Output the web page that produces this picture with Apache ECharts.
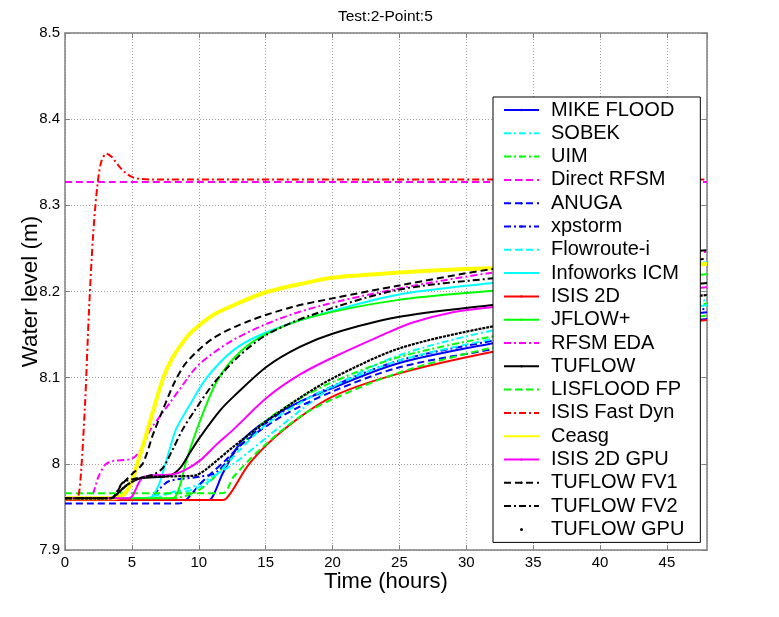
<!DOCTYPE html>
<html><head><meta charset="utf-8">
<script src="https://cdn.jsdelivr.net/npm/echarts@6/dist/echarts.min.js"></script>
<style>html,body{margin:0;padding:0;background:#fff}#c{width:779px;height:617px}</style>
</head><body><div id="c"></div>
<script>
// ---- data: [time (hours), water level (m)] ----
const mikeFlood = [[0,7.958],[10.5,7.958],[10.9,7.959],[11.8,7.989],[13.3,8.028],[16.3,8.062],[20,8.088],[25,8.117],[32,8.140],[40,8.162],[48,8.176]];
const sobek = [[0,7.96],[6.6,7.96],[7.0,7.961],[8.0,7.967],[9.0,7.971],[10,7.976],[11,7.985],[12.6,8.0],[15.1,8.031],[17.6,8.062],[20.1,8.090],[25,8.126],[32,8.155],[40,8.176],[48,8.19]];
const uim = [[0,7.96],[8.1,7.96],[8.5,7.961],[9.5,7.965],[10.5,7.975],[11.5,7.99],[13,8.02],[15,8.05],[17.5,8.075],[20,8.095],[25,8.124],[32,8.148],[40,8.17],[48,8.186]];
const directRfsm = [[0,8.327],[48,8.327]];
const anuga = [[0,7.954],[8.4,7.954],[8.8,7.955],[9.3,7.962],[10,7.975],[11,7.99],[12,8.004],[13.3,8.024],[16.3,8.056],[20,8.084],[25,8.112],[32,8.133],[40,8.154],[48,8.168]];
const xpstorm = [[0,7.958],[5.9,7.958],[6.3,7.959],[7.0,7.97],[7.8,7.98],[10,7.985],[11.3,7.99],[13.3,8.024],[16,8.058],[20,8.09],[25,8.12],[32,8.143],[40,8.165],[48,8.18]];
const flowroute = [[0,7.96],[5.9,7.96],[6.3,7.961],[7.0,7.964],[9.0,7.968],[10.3,7.975],[11.5,7.99],[13,8.015],[15,8.045],[17.5,8.07],[20,8.09],[25,8.12],[32,8.145],[40,8.168],[48,8.184]];
const infoworks = [[0,7.96],[6.1,7.96],[6.5,7.962],[7.0,7.975],[7.6,8.005],[8.3,8.04],[9.2,8.065],[10.6,8.10],[12.6,8.132],[14.8,8.151],[18.3,8.17],[24.8,8.196],[31.8,8.2095],[40,8.222],[48,8.234]];
const isis2d = [[0,7.958],[11.6,7.958],[12,7.959],[13.8,8.0006],[16.3,8.039],[20,8.078],[25,8.105],[32,8.130],[40,8.152],[48,8.167]];
const jflow = [[0,7.96],[7.8,7.96],[8.2,7.961],[8.6,7.975],[9.1,8.005],[10.1,8.05],[11.4,8.097],[13.1,8.13],[15.1,8.151],[18.3,8.170],[24.8,8.19],[31.8,8.2006],[40,8.211],[48,8.22]];
const rfsmEda = [[0,7.96],[1.6,7.96],[2.0,7.962],[2.5,7.985],[3.0,7.999],[3.5,8.003],[5.0,8.006],[5.6,8.015],[6.4,8.04],[7.1,8.055],[7.8,8.07],[8.5,8.085],[10,8.115],[12.6,8.144],[15.8,8.167],[19,8.183],[24.8,8.203],[32,8.222],[40,8.236],[48,8.246]];
const tuflow = [[0,7.96],[3.2,7.96],[3.6,7.961],[4.6,7.975],[5.6,7.983],[7.8,7.986],[8.6,7.995],[9.3,8.012],[10.1,8.031],[11.6,8.062],[12.6,8.078],[15.1,8.113],[17.6,8.136],[20,8.151],[24.8,8.170],[31.8,8.184],[40,8.198],[48,8.21]];
const lisflood = [[0,7.966],[11.6,7.966],[12,7.967],[12.6,7.985],[15.1,8.024],[17.6,8.055],[20,8.075],[25,8.106],[32,8.135],[40,8.156],[48,8.172]];
const isisFastDyn = [[0,7.96],[0.8,7.96],[1.0,7.962],[1.2,7.99],[1.5,8.07],[1.8,8.18],[2.1,8.265],[2.4,8.32],[2.7,8.35],[3.1,8.36],[3.5,8.356],[4.0,8.346],[4.5,8.338],[5.0,8.333],[5.5,8.331],[6.5,8.330],[48,8.330]];
const ceasg = [[0,7.96],[3.6,7.96],[4.0,7.961],[4.5,7.966],[5.0,7.98],[5.5,8.005],[6.0,8.03],[6.6,8.062],[7.35,8.10],[8,8.122],[9,8.145],[9.6,8.155],[11,8.172],[12.3,8.182],[14.8,8.198],[18,8.210],[20,8.216],[25,8.222],[30,8.226],[35,8.228],[40,8.230],[48,8.232]];
const isis2dGpu = [[0,7.96],[4.6,7.96],[5.0,7.962],[5.9,7.985],[8.1,7.988],[9.0,7.993],[10.1,8.004],[11.3,8.022],[12.6,8.04],[15.1,8.077],[17.6,8.104],[20.1,8.124],[23.8,8.15],[26,8.164],[29,8.176],[32,8.182],[40,8.196],[48,8.205]];
const tuflowFv1 = [[0,7.96],[3.2,7.96],[3.6,7.961],[4.2,7.975],[5.0,7.988],[5.8,8.0],[6.6,8.035],[7.3,8.062],[8.2,8.095],[9.1,8.118],[11.1,8.146],[13.8,8.166],[17,8.182],[20,8.192],[25,8.207],[32,8.226],[40,8.238],[48,8.248]];
const tuflowFv2 = [[0,7.96],[3.2,7.96],[3.6,7.961],[4.3,7.978],[5.0,7.982],[6.5,7.987],[7.3,7.995],[8.0,8.015],[8.8,8.04],[9.7,8.062],[11.1,8.093],[13,8.125],[15.1,8.15],[18.3,8.172],[24.8,8.2017],[31.8,8.215],[40,8.227],[48,8.238]];
const tuflowGpu = [[0,7.96],[3.2,7.96],[3.6,7.961],[4.6,7.975],[5.8,7.984],[9.5,7.986],[9.85,7.987],[10.5,7.993],[12.6,8.02],[15.1,8.05],[17.6,8.077],[20.1,8.1],[25,8.134],[31.8,8.159],[40,8.18],[48,8.196]];

const seriesNames = ['MIKE FLOOD','SOBEK','UIM','Direct RFSM','ANUGA','xpstorm','Flowroute-i','Infoworks ICM','ISIS 2D','JFLOW+','RFSM EDA','TUFLOW','LISFLOOD FP','ISIS Fast Dyn','Ceasg','ISIS 2D GPU','TUFLOW FV1','TUFLOW FV2','TUFLOW GPU'];
const seriesData = [mikeFlood,sobek,uim,directRfsm,anuga,xpstorm,flowroute,infoworks,isis2d,jflow,rfsmEda,tuflow,lisflood,isisFastDyn,ceasg,isis2dGpu,tuflowFv1,tuflowFv2,tuflowGpu];

// ---- styles ----
const DASH = [7,4], DASHDOT = [7,3,2,3], DOT = [3,1];
const styles = [
  ['#0000ff','solid',2],['#00ffff',DASHDOT,2],['#00ff00',DASHDOT,2],['#ff00ff',DASH,2],
  ['#0000ff',DASH,2],['#0000ff',DASHDOT,2],['#00ffff',DASH,2],['#00ffff','solid',2],
  ['#ff0000','solid',2],['#00ff00','solid',2],['#ff00ff',DASHDOT,2],['#000000','solid',2],
  ['#00ff00',DASH,2],['#ff0000',DASHDOT,2],['#ffff00','solid',4],['#ff00ff','solid',2],
  ['#000000',DASH,2],['#000000',DASHDOT,2],['#000000',DOT,2.2]
];

const FONT = 'Liberation Sans';
const chart = echarts.init(document.getElementById('c'), null, {renderer:'canvas'});
const axisCol = '#808080';
const gridLine = {show:true, lineStyle:{color:'#a0a0a0', type:[1,2], width:1}};

const series = seriesNames.map((n,i)=>({
  name:n, type:'line', data:seriesData[i], showSymbol:false, symbol:'none',
  smooth:0.3, animation:false,
  lineStyle:{color:styles[i][0], type:styles[i][1], width:styles[i][2]},
  itemStyle:{color:styles[i][0]}, z: 2
}));

chart.setOption({
  animation:false,
  backgroundColor:'#fff',
  title:{text:'Test:2-Point:5', left:333, top:4, textStyle:{fontFamily:FONT, fontSize:15.5, fontWeight:'normal', color:'#000'}},
  grid:{left:65, top:33, right:72, bottom:67, containLabel:false},
  legend:{
    orient:'vertical', left:493, top:97, padding:[3,16,3,10],
    backgroundColor:'#fff', borderColor:'#000', borderWidth:1, borderRadius:0,
    itemWidth:35, itemHeight:3, itemGap:3.3,
    textStyle:{fontFamily:FONT, fontSize:20, lineHeight:20, color:'#000', padding:[0,0,0,7]},
    data: seriesNames.map(n => n==='TUFLOW GPU' ? {name:n, icon:'circle'} : {name:n}),
    z: 10
  },
  xAxis:[
    {type:'value', position:'bottom', min:0, max:48, interval:5,
     name:'Time (hours)', nameLocation:'middle', nameGap:21, nameMoveOverlap:false,
     nameTextStyle:{fontFamily:FONT, fontSize:22, color:'#000'},
     axisLine:{show:true, onZero:false, lineStyle:{color:axisCol, width:1.5}},
     axisTick:{show:true, inside:true, length:5, lineStyle:{color:axisCol}},
     axisLabel:{show:true, margin:5, fontFamily:FONT, fontSize:15, color:'#000', showMaxLabel:false},
     splitLine:gridLine},
    {type:'value', position:'top', min:0, max:48, interval:5,
     axisLine:{show:true, onZero:false, lineStyle:{color:axisCol, width:1.5}},
     axisTick:{show:true, inside:true, length:5, lineStyle:{color:axisCol}},
     axisLabel:{show:false}, splitLine:{show:false}}
  ],
  yAxis:[
    {type:'value', position:'left', min:7.9, max:8.5, interval:0.1,
     name:'Water level (m)', nameLocation:'middle', nameGap:23, nameMoveOverlap:false,
     nameTextStyle:{fontFamily:FONT, fontSize:22.5, color:'#000'},
     axisLine:{show:true, onZero:false, lineStyle:{color:axisCol, width:1.5}},
     axisTick:{show:true, inside:true, length:5, lineStyle:{color:axisCol}},
     axisLabel:{show:true, margin:5, fontFamily:FONT, fontSize:15, color:'#000'},
     splitLine:gridLine},
    {type:'value', position:'right', min:7.9, max:8.5, interval:0.1,
     axisLine:{show:true, onZero:false, lineStyle:{color:axisCol, width:1.5}},
     axisTick:{show:true, inside:true, length:5, lineStyle:{color:axisCol}},
     axisLabel:{show:false}, splitLine:{show:false}}
  ],
  series: series
});
</script></body></html>
